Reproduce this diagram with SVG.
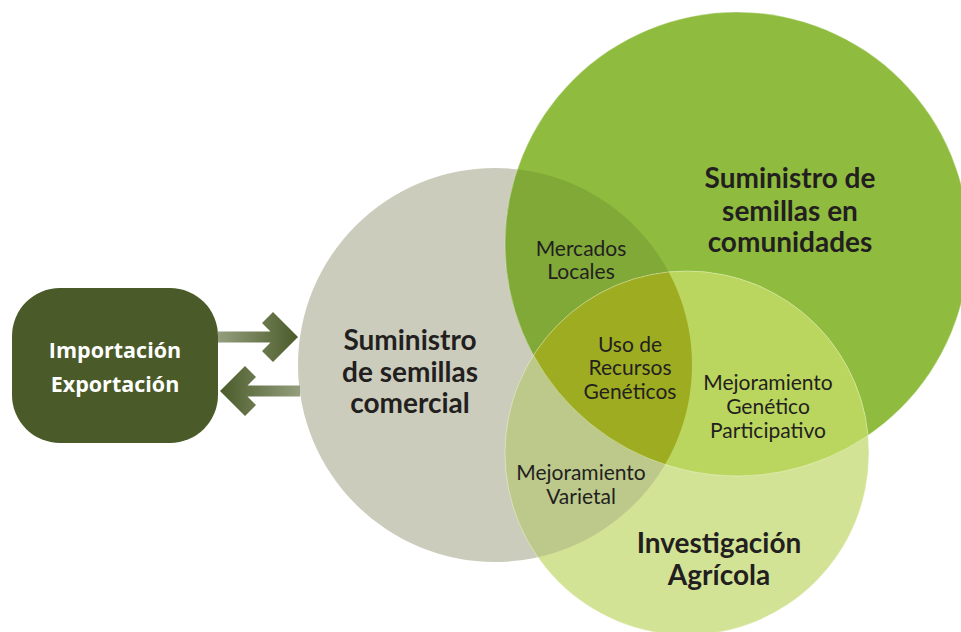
<svg xmlns="http://www.w3.org/2000/svg" width="961" height="632" viewBox="0 0 961 632">
<style>
.hdr{font-family:Lato,"Open Sans","Liberation Sans",sans-serif;font-weight:bold;font-size:28px;fill:#231F20;text-anchor:middle}
.lbl{font-family:Lato,"Open Sans","Liberation Sans",sans-serif;font-size:21px;fill:#231F20;text-anchor:middle}
.box{font-family:"Open Sans","Liberation Sans",sans-serif;font-weight:bold;font-size:21.5px;fill:#FFFFFF;text-anchor:middle}
.edge{fill:none;stroke:#FFFFFF;stroke-opacity:0.35;stroke-width:1}
</style>
<defs>
<clipPath id="cGray"><circle cx="495" cy="365" r="197"/></clipPath>
<clipPath id="cGreen"><circle cx="737" cy="244" r="232"/></clipPath>
<clipPath id="cLight"><circle cx="687" cy="453" r="182"/></clipPath>
<linearGradient id="gRight" gradientUnits="userSpaceOnUse" x1="218" y1="0" x2="298" y2="0">
<stop offset="0" stop-color="#949E7E"/><stop offset="1" stop-color="#4B5B29"/>
</linearGradient>
<linearGradient id="gLeft" gradientUnits="userSpaceOnUse" x1="300" y1="0" x2="220" y2="0">
<stop offset="0" stop-color="#949E7E"/><stop offset="1" stop-color="#4B5B29"/>
</linearGradient>
</defs>
<rect width="961" height="632" fill="#FFFFFF"/>

<g id="circle-comercial">
<circle cx="495" cy="365" r="197" fill="#CBCCBC"/>
</g>
<g id="circle-comunidades">
<circle cx="737" cy="244" r="232" fill="#8FBC3E"/>
</g>
<g id="circle-investigacion">
<circle cx="687" cy="453" r="182" fill="#D3E395"/>
</g>

<g id="intersections">
<g clip-path="url(#cGray)"><circle cx="737" cy="244" r="232" fill="#80A938"/></g>
<g clip-path="url(#cGray)"><circle cx="687" cy="453" r="182" fill="#BCC98B"/></g>
<g clip-path="url(#cGreen)"><circle cx="687" cy="453" r="182" fill="#BAD65E"/></g>
<g clip-path="url(#cGreen)"><g clip-path="url(#cGray)"><circle cx="687" cy="453" r="182" fill="#9EAC21"/></g></g>
<circle class="edge" cx="737" cy="244" r="232"/>
<circle class="edge" cx="687" cy="453" r="182"/>
</g>

<g id="label-comercial">
<text class="hdr" x="410" y="350">Suministro</text>
<text class="hdr" x="410" y="382">de semillas</text>
<text class="hdr" x="410" y="413">comercial</text>
</g>
<g id="label-comunidades">
<text class="hdr" x="790" y="188">Suministro de</text>
<text class="hdr" x="790" y="221">semillas en</text>
<text class="hdr" x="790" y="252">comunidades</text>
</g>
<g id="label-investigacion">
<text class="hdr" x="719" y="553">Investigación</text>
<text class="hdr" x="719" y="585">Agrícola</text>
</g>
<g id="label-mercados">
<text class="lbl" x="581" y="256">Mercados</text>
<text class="lbl" x="581" y="279">Locales</text>
</g>
<g id="label-recursos">
<text class="lbl" x="630" y="352">Uso de</text>
<text class="lbl" x="630" y="375">Recursos</text>
<text class="lbl" x="630" y="399">Genéticos</text>
</g>
<g id="label-participativo">
<text class="lbl" x="768" y="390">Mejoramiento</text>
<text class="lbl" x="768" y="414">Genético</text>
<text class="lbl" x="768" y="438">Participativo</text>
</g>
<g id="label-varietal">
<text class="lbl" x="581" y="480">Mejoramiento</text>
<text class="lbl" x="581" y="504">Varietal</text>
</g>

<g id="node-importacion">
<rect x="12" y="288" width="206" height="155" rx="48" ry="48" fill="#4A5A28"/>
<text class="box" x="115" y="358">Importación</text>
<text class="box" x="115" y="392">Exportación</text>
</g>

<g id="connectors">
<polygon fill="url(#gRight)" points="218,331.5 270.5,331.5 262,323 273,312 298,337 273,362 262,351 270.5,342.5 218,342.5"/>
<polygon fill="url(#gLeft)" points="300,385.5 247.5,385.5 256,377 245,366 220,391 245,416 256,405 247.5,396.5 300,396.5"/>
</g>
</svg>
